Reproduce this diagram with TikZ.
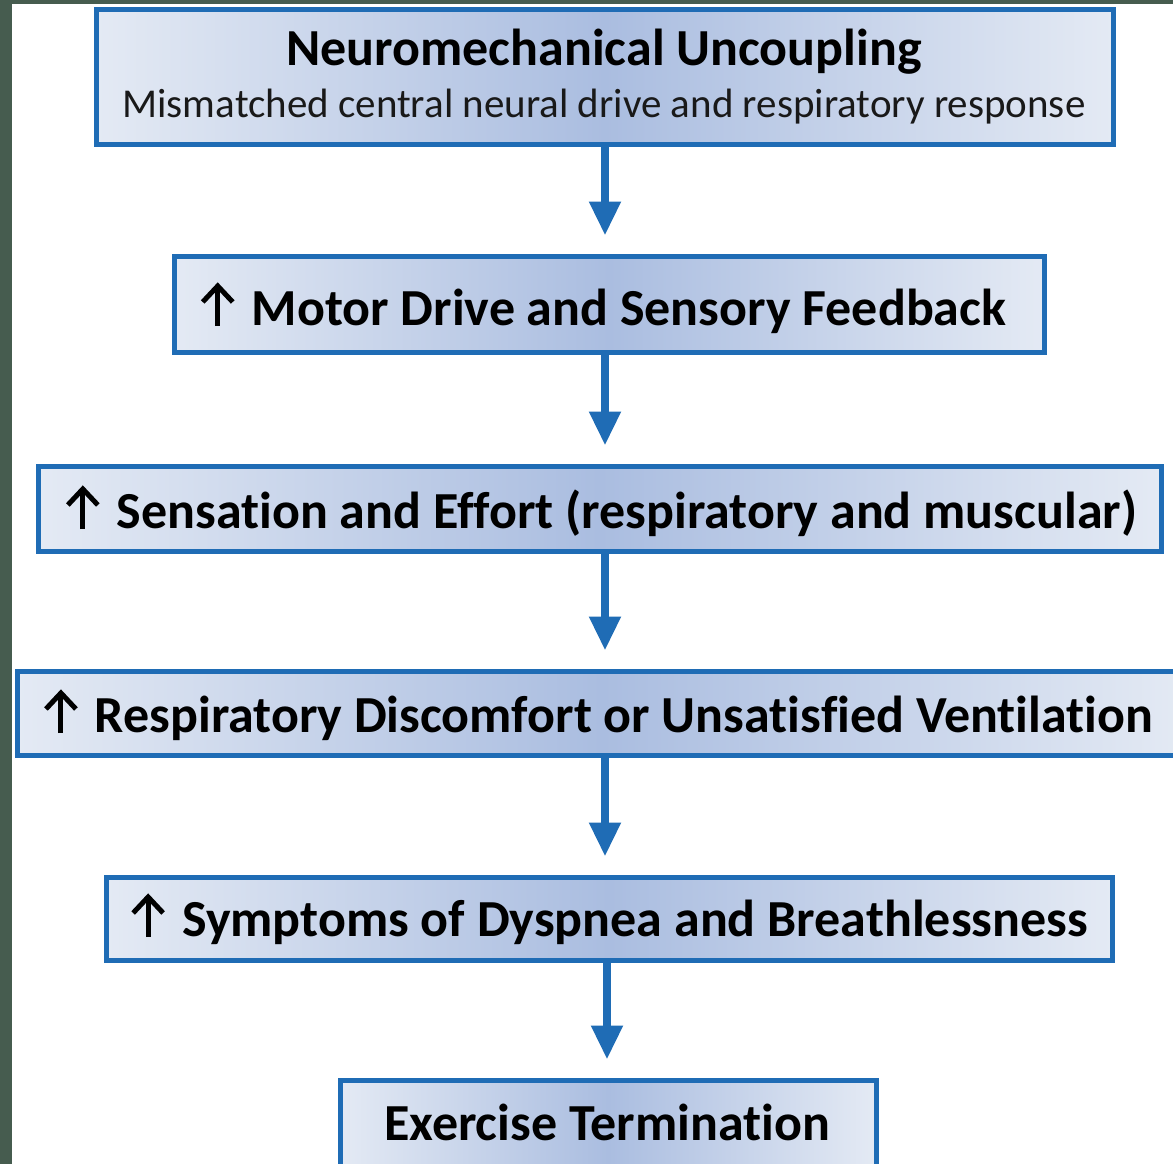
\documentclass[tikz,border=0pt]{standalone}
\usepackage{fontspec}
\setmainfont[Ligatures=CommonOff]{Carlito}
\usetikzlibrary{arrows.meta}
\definecolor{frame}{HTML}{465C4F}
\definecolor{boxline}{HTML}{1F6CB5}
\definecolor{edgefill}{HTML}{E4EAF4}
\definecolor{midfill}{HTML}{AABDE0}
\tikzset{
  flowbox/.style={draw=boxline, line width=5pt, left color=edgefill, right color=edgefill, middle color=midfill, inner sep=0pt},
  flowarrow/.style={draw=boxline, line width=8pt, -{Triangle[width=30pt,length=34pt]}, shorten >=18pt},
  boxtext/.style={font=\fontsize{52}{58}\selectfont\bfseries, text=black},
  subtext/.style={font=\fontsize{41}{46}\selectfont, text=black!90},
  upglyph/.style={x=1pt, y=1pt, line width=5pt, line join=miter, line cap=butt, black}
}
\newcommand{\upar}{\tikz[baseline=0pt, upglyph]{\path (-18,0) rectangle (18,41); \draw (0,-1) -- (0,39); \draw (-15,23) -- (0,39) -- (15,23);}\hspace{16pt}}
\begin{document}
\begin{tikzpicture}[x=1pt,y=-1pt]
\useasboundingbox (0,0) rectangle (1173,1164);
\clip (0,0) rectangle (1173,1164);
\fill[white] (0,0) rectangle (1173,1164);
\fill[frame] (0,0) rectangle (12,1164);
\fill[frame] (0,0) rectangle (1173,4);
% boxes
\node[flowbox, minimum width=1017pt, minimum height=134pt] (b1) at (604.5,77) {};
\node[flowbox, minimum width=870pt, minimum height=96pt] (b2) at (609,304) {};
\node[flowbox, minimum width=1123pt, minimum height=85pt] (b3) at (599.5,508.5) {};
\node[flowbox, minimum width=1170pt, minimum height=84pt] (b4) at (602,713) {};
\node[flowbox, minimum width=1006pt, minimum height=83pt] (b5) at (609,918.5) {};
\node[flowbox, minimum width=536pt, minimum height=96pt] (b6) at (608,1128) {};
% texts
\node[boxtext] (t1) at (604,52) {Neuromechanical Uncoupling};
\node[subtext] (s1) at (604,107) {Mismatched central neural drive and respiratory response};
\node[boxtext, anchor=base] (t2) at (603,325) {\upar Motor Drive and Sensory Feedback};
\node[boxtext, anchor=base] (t3) at (601,528) {\upar Sensation and Effort (respiratory and muscular)};
\node[boxtext, anchor=base] (t4) at (598,732) {\upar Respiratory Discomfort or Unsatisfied Ventilation};
\node[boxtext, anchor=base] (t5) at (609,936) {\upar Symptoms of Dyspnea and Breathlessness};
\node[boxtext] (t6) at (607,1122) {Exercise Termination};
% arrows
\draw[flowarrow] (b1.south -| 605,0) -- (b2.north -| 605,0);
\draw[flowarrow] (b2.south -| 605,0) -- (b3.north -| 605,0);
\draw[flowarrow] (b3.south -| 605,0) -- (b4.north -| 605,0);
\draw[flowarrow] (b4.south -| 605,0) -- (b5.north -| 605,0);
\draw[flowarrow] (b5.south -| 607,0) -- (b6.north -| 607,0);
\end{tikzpicture}
\end{document}
